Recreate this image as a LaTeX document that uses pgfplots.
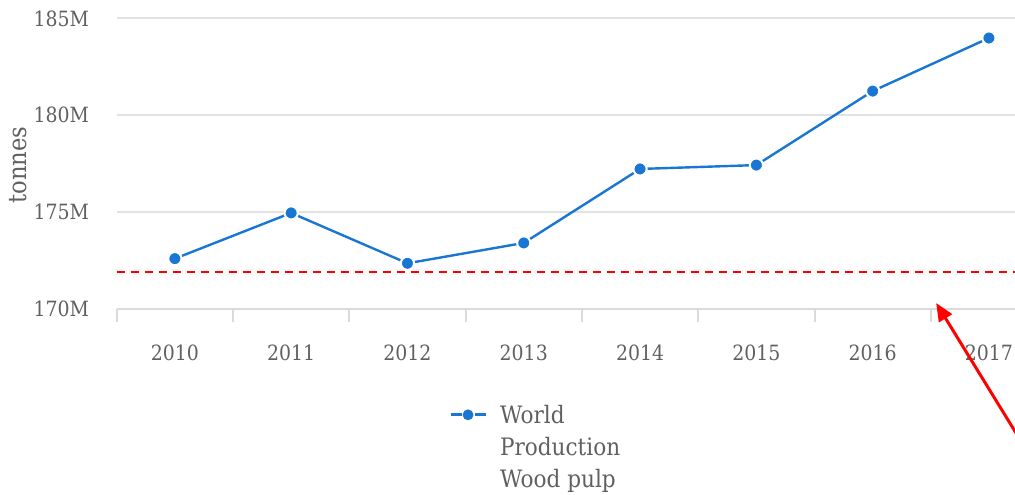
\documentclass[border=0pt]{standalone}
\usepackage{fontspec}
\setmainfont{DejaVu Serif Condensed}
\usepackage{pgfplots}
\pgfplotsset{compat=1.18}
\usetikzlibrary{arrows.meta}
\definecolor{blueA}{HTML}{1976D2}
\definecolor{textgray}{HTML}{606060}
\definecolor{gridgray}{HTML}{E2E2E2}
\definecolor{axisgray}{HTML}{DADADA}
\begin{document}
\begin{tikzpicture}
\useasboundingbox (0,0) rectangle (507.5pt,247pt);
\clip (0,0) rectangle (507.5pt,247pt);
\begin{axis}[
  at={(58.35pt,92.5pt)}, anchor=south west,
  x=58.15pt, y=9.685pt,
  xmin=-0.5, xmax=7.5, ymin=170, ymax=186,
  scale only axis, clip=false,
  axis x line*=bottom, axis y line*=left,
  x axis line style={axisgray, line width=1pt, -},
  y axis line style={draw=none},
  xtick={0,...,7},
  xticklabels={2010,2011,2012,2013,2014,2015,2016,2017},
  minor xtick={-0.5,0.5,...,7.5},
  major x tick style={draw=none},
  minor x tick style={axisgray, line width=1pt},
  minor tick length=6.5pt,
  tick align=outside,
  ytick={170,175,180,185},
  yticklabels={170M,175M,180M,185M},
  ymajorgrids, grid style={gridgray, line width=1pt},
  major y tick style={draw=none},
  /pgf/number format/assume math mode=true,
  tick label style={font=\fontsize{10.5}{12}\selectfont, text=textgray},
  xticklabel style={yshift=-10pt},
  yticklabel style={anchor=east, xshift=-6pt},
  ylabel={tonnes},
  ylabel style={at={(axis description cs:-0.1061,0.4646)}, anchor=center, rotate=0, font=\fontsize{12.6}{13}\selectfont, text=textgray},
  legend style={draw=none, fill=none, inner sep=0pt, outer sep=0pt,
    at={(0.3572,-0.2985)}, anchor=north west, column sep=6.5pt,
    nodes={inner sep=0pt, text=textgray, font=\fontsize{12}{16}\selectfont}},
  legend cell align=left,
]
\addplot[red, line width=1pt, dash pattern=on 4pt off 3pt, forget plot]
  coordinates {(-0.5,171.91) (7.5,171.91)};
\addplot[blueA, line width=1.2pt, mark=*, mark size=3.3pt,
  mark options={draw=white, fill=blueA, line width=1pt, solid}, forget plot]
  coordinates {(0,172.60) (1,174.96) (2,172.36) (3,173.41) (4,177.23) (5,177.43) (6,181.25) (7,183.99)};
\addlegendimage{legend image code/.code={
  \draw[blueA, line width=1.5pt] (0pt,-0.3pt) -- (5.5pt,-0.3pt);
  \draw[blueA, line width=1.5pt] (12pt,-0.3pt) -- (17.5pt,-0.3pt);
  \fill[blueA] (8.75pt,-0.3pt) circle (2.5pt);}}
\addlegendentry{\begin{tabular}[t]{@{}l@{}}World\\Production\\Wood pulp\end{tabular}}
\draw[red, line width=1.5pt, -{Triangle[length=9pt, width=7.5pt]}]
  (axis cs:7.346,162.49) -- (axis cs:6.546,170.31);
\end{axis}
\end{tikzpicture}
\end{document}
